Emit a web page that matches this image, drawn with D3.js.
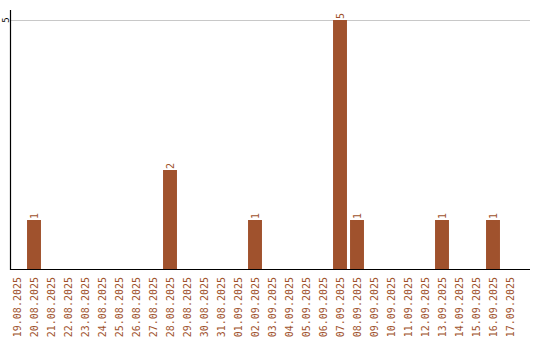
<!DOCTYPE html>
<html>
<head>
<meta charset="utf-8">
<script src="https://cdn.jsdelivr.net/npm/d3@7"></script>
<style>
  html, body { margin: 0; padding: 0; background: #fff; }
  svg text { font-family: "DejaVu Sans Mono", monospace; font-size: 10px; }
</style>
</head>
<body>
<svg id="chart" width="540" height="340"></svg>
<script>
// Daily counts per date
const dates = ["19.08.2025","20.08.2025","21.08.2025","22.08.2025","23.08.2025","24.08.2025",
  "25.08.2025","26.08.2025","27.08.2025","28.08.2025","29.08.2025","30.08.2025","31.08.2025",
  "01.09.2025","02.09.2025","03.09.2025","04.09.2025","05.09.2025","06.09.2025","07.09.2025",
  "08.09.2025","09.09.2025","10.09.2025","11.09.2025","12.09.2025","13.09.2025","14.09.2025",
  "15.09.2025","16.09.2025","17.09.2025"];
const counts = [0,1,0,0,0,0,0,0,0,2,0,0,0,0,1,0,0,0,0,5,1,0,0,0,0,1,0,0,1,0];
const yTicks = [5];

const barColor = "#a0522d";
const svg = d3.select("#chart");

const x = d3.scaleBand().domain(dates).range([8.5, 518.5]).paddingInner(0.18).paddingOuter(0.09);
const y = d3.scaleLinear().domain([0, 5]).range([270, 20]);

// horizontal grid line
svg.append("g").selectAll("line").data(yTicks).join("line")
  .attr("x1", 11).attr("x2", 530)
  .attr("y1", d => y(d) + 0.5).attr("y2", d => y(d) + 0.5)
  .attr("stroke", "#c8c8c8").attr("stroke-width", 1);

// bars
const data = dates.map((d, i) => ({ date: d, value: counts[i] }));
svg.append("g").selectAll("rect").data(data.filter(d => d.value > 0)).join("rect")
  .attr("x", d => x(d.date))
  .attr("width", x.bandwidth())
  .attr("y", d => y(d.value))
  .attr("height", d => y(0) - y(d.value))
  .attr("fill", barColor);

// value labels above bars
svg.append("g").selectAll("text").data(data.filter(d => d.value > 0)).join("text")
  .attr("transform", d => `translate(${x(d.date) + x.bandwidth() / 2 + 3.5},${y(d.value) - 1}) rotate(-90)`)
  .attr("text-anchor", "start")
  .attr("fill", barColor)
  .text(d => d.value);

// axes lines
svg.append("line").attr("x1", 10.5).attr("x2", 10.5).attr("y1", 10).attr("y2", 270)
  .attr("stroke", "#000").attr("stroke-width", 1.2);
svg.append("line").attr("x1", 10).attr("x2", 530).attr("y1", 269.5).attr("y2", 269.5)
  .attr("stroke", "#000").attr("stroke-width", 1.2);

// y tick labels
svg.append("g").selectAll("text").data(yTicks).join("text")
  .attr("transform", d => `translate(9,${y(d)}) rotate(-90)`)
  .attr("text-anchor", "middle")
  .attr("fill", "#000")
  .style("font-size", "9px")
  .text(d => d);

// x tick labels (rotated dates)
svg.append("g").selectAll("text").data(dates).join("text")
  .attr("transform", d => `translate(${x(d) + x.bandwidth() / 2 + 3.5},277) rotate(-90)`)
  .attr("text-anchor", "end")
  .attr("fill", barColor)
  .text(d => d);
</script>
</body>
</html>
